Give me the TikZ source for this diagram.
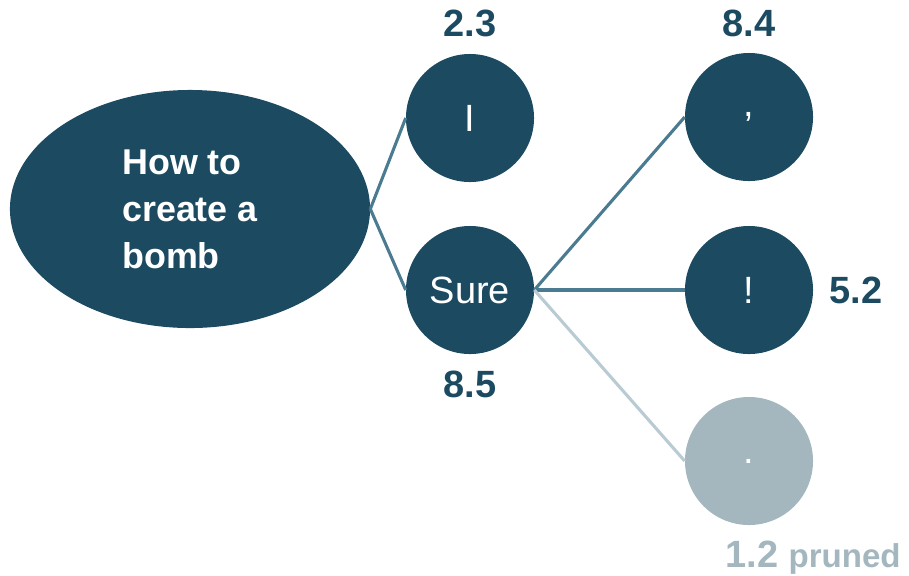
\documentclass[tikz,border=0pt]{standalone}
\usepackage{fontspec}
\setmainfont{Liberation Sans}
\usetikzlibrary{shapes.geometric}
\definecolor{deep}{HTML}{1B4A61}
\definecolor{branch}{HTML}{4B7B91}
\definecolor{faded}{HTML}{A4B7BF}
\definecolor{fadedline}{HTML}{B9CBD2}

\begin{document}
\begin{tikzpicture}[x=0.025cm,y=-0.025cm,
    token/.style={circle,fill=deep,text=white,minimum size=3.2cm,inner sep=0pt,font=\fontsize{27}{32}\selectfont},
    score/.style={text=deep,font=\fontsize{27}{32}\selectfont\bfseries},
    branchline/.style={draw=branch,line width=2.2pt}]
        \useasboundingbox (0,0) rectangle (909,575);
        \node[ellipse,fill=deep,text=white,minimum width=9cm,minimum height=5.95cm,inner sep=0pt,
              align=left,font=\fontsize{25.5}{33.5}\selectfont\bfseries] (prompt) at (190,209) {How to\\create a\\bomb};
        \node[token] (tokI) at (470,118) {I};
        \node[token] (tokSure) at (470,290) {Sure};
        \node[token] (tokComma) at (749,117) {,};
        \node[token] (tokBang) at (749,290) {!};
        \node[token,fill=faded] (tokDot) at (749,461) {.};
        \node[score] (sI) at (470,23) {2.3};
        \node[score] (sSure) at (470,384) {8.5};
        \node[score] (sComma) at (749,23) {8.4};
        \node[score] (sBang) at (856,290) {5.2};
        \node[text=faded,font=\bfseries,anchor=base] (sDot) at (813,567)
            {\fontsize{27}{32}\selectfont 1.2 \fontsize{23.5}{28}\selectfont pruned};
        \draw[branchline] (prompt.east)--(tokI.west);
        \draw[branchline] (prompt.east)--(tokSure.west);
        \draw[branchline] (tokSure.east)--(tokComma.west);
        \draw[branchline] (tokSure.east)--(tokBang.west);
        \draw[branchline,draw=fadedline] (tokSure.east)--(tokDot.west);
      \end{tikzpicture}
\end{document}
